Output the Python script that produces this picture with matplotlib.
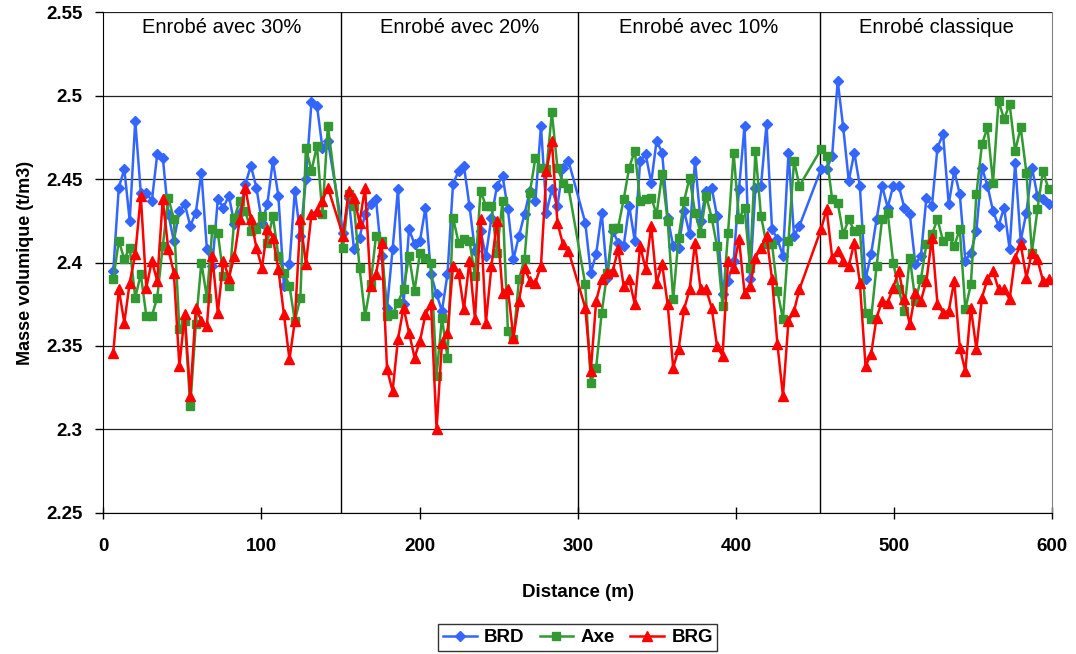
import numpy as np
import matplotlib
matplotlib.use("Agg")
from matplotlib import pyplot as plt

plt.rcParams['font.family'] = ['Liberation Sans', 'DejaVu Sans']

# distances (m) of the measuring points, per section
dist_30 = [6.3, 9.8, 13.3, 16.7, 20.2, 23.7, 27.2, 30.7, 34.1, 37.6, 41.1, 44.6, 48.1, 51.5,
           55.0, 58.5, 62.0, 65.5, 68.9, 72.4, 75.9, 79.4, 82.9, 86.3, 89.8, 93.3, 96.8, 100.3,
           103.7, 107.2, 110.7, 114.2, 117.7, 121.1, 124.6, 128.1, 131.6, 135.1, 138.5, 142.0]
dist_20 = [151.6, 155.1, 158.5, 162.0, 165.5, 169.0, 172.4, 175.9, 179.4, 182.9, 186.3, 189.8,
           193.3, 196.8, 200.2, 203.7, 207.2, 210.7, 214.1, 217.6, 221.1, 224.6, 228.0, 231.5,
           235.0, 238.5, 241.9, 245.4, 248.9, 252.4, 255.8, 259.3, 262.8, 266.3, 269.7, 273.2,
           276.7, 280.2, 283.6, 287.1, 290.6, 294.1]
dist_10 = [304.7, 308.2, 311.6, 315.1, 318.6, 322.1, 325.5, 329.0, 332.5, 336.0, 339.4, 342.9,
           346.4, 349.8, 353.3, 356.8, 360.3, 363.7, 367.2, 370.7, 374.1, 377.6, 381.1, 384.6,
           388.0, 391.5, 395.0, 398.5, 401.9, 405.4, 408.9, 412.3, 415.8, 419.3, 422.8, 426.2,
           429.7, 433.2, 436.7, 440.1]
dist_cl = [453.8, 457.3, 460.8, 464.3, 467.8, 471.3, 474.8, 478.3, 481.9, 485.4, 488.9, 492.4,
           495.9, 499.4, 502.9, 506.4, 509.9, 513.4, 516.9, 520.4, 523.9, 527.4, 530.9, 534.5,
           538.0, 541.5, 545.0, 548.5, 552.0, 555.5, 559.0, 562.5, 566.0, 569.5, 573.0, 576.5,
           580.0, 583.6, 587.1, 590.6, 594.1, 597.6]

brd_30 = [2.395, 2.445, 2.456, 2.425, 2.485, 2.442, 2.442, 2.437, 2.465, 2.463, 2.429, 2.413,
          2.431, 2.435, 2.422, 2.430, 2.454, 2.408, 2.398, 2.438, 2.433, 2.440, 2.423, 2.430,
          2.447, 2.458, 2.445, 2.424, 2.435, 2.461, 2.440, 2.386, 2.399, 2.443, 2.416, 2.450,
          2.496, 2.494, 2.469, 2.473]
axe_30 = [2.390, 2.413, 2.402, 2.409, 2.379, 2.393, 2.368, 2.368, 2.379, 2.410, 2.439, 2.426,
          2.360, 2.365, 2.314, 2.363, 2.400, 2.379, 2.420, 2.418, 2.392, 2.386, 2.427, 2.437,
          2.431, 2.419, 2.420, 2.428, 2.412, 2.428, 2.404, 2.394, 2.386, 2.365, 2.379, 2.469,
          2.455, 2.470, 2.429, 2.482]
brg_30 = [2.346, 2.384, 2.364, 2.388, 2.405, 2.440, 2.385, 2.401, 2.389, 2.438, 2.408, 2.394,
          2.338, 2.369, 2.320, 2.373, 2.365, 2.362, 2.404, 2.370, 2.401, 2.391, 2.404, 2.426,
          2.445, 2.426, 2.409, 2.397, 2.420, 2.415, 2.396, 2.369, 2.342, 2.365, 2.426, 2.399,
          2.429, 2.431, 2.437, 2.445]

brd_20 = [2.418, 2.439, 2.408, 2.415, 2.429, 2.435, 2.438, 2.404, 2.373, 2.408, 2.444, 2.375,
          2.420, 2.411, 2.413, 2.433, 2.393, 2.381, 2.371, 2.393, 2.447, 2.455, 2.458, 2.434,
          2.407, 2.419, 2.404, 2.427, 2.446, 2.452, 2.432, 2.402, 2.416, 2.429, 2.443, 2.437,
          2.482, 2.430, 2.444, 2.434, 2.457, 2.461]
axe_20 = [2.409, 2.441, 2.434, 2.397, 2.368, 2.387, 2.416, 2.413, 2.368, 2.369, 2.376, 2.384,
          2.404, 2.383, 2.406, 2.403, 2.400, 2.332, 2.367, 2.343, 2.427, 2.412, 2.414, 2.413,
          2.392, 2.443, 2.434, 2.434, 2.406, 2.437, 2.359, 2.354, 2.390, 2.402, 2.442, 2.463,
          2.457, 2.456, 2.490, 2.457, 2.448, 2.445]
brg_20 = [2.416, 2.443, 2.439, 2.424, 2.445, 2.386, 2.393, 2.412, 2.336, 2.323, 2.354, 2.373,
          2.358, 2.343, 2.353, 2.369, 2.375, 2.300, 2.352, 2.358, 2.398, 2.394, 2.372, 2.401,
          2.366, 2.426, 2.364, 2.398, 2.425, 2.382, 2.384, 2.355, 2.377, 2.397, 2.389, 2.388,
          2.398, 2.455, 2.473, 2.424, 2.411, 2.407]

brd_10 = [2.424, 2.394, 2.405, 2.430, 2.391, 2.419, 2.412, 2.410, 2.434, 2.413, 2.461, 2.465,
          2.448, 2.473, 2.466, 2.427, 2.410, 2.409, 2.431, 2.417, 2.461, 2.425, 2.443, 2.445,
          2.428, 2.381, 2.389, 2.401, 2.444, 2.482, 2.390, 2.445, 2.446, 2.483, 2.420, 2.414,
          2.404, 2.466, 2.416, 2.422]
axe_10 = [2.387, 2.328, 2.337, 2.370, 2.394, 2.421, 2.421, 2.438, 2.457, 2.467, 2.437, 2.438,
          2.439, 2.429, 2.453, 2.425, 2.378, 2.415, 2.437, 2.451, 2.430, 2.418, 2.440, 2.427,
          2.410, 2.374, 2.418, 2.466, 2.426, 2.433, 2.397, 2.467, 2.428, 2.411, 2.411, 2.383,
          2.366, 2.413, 2.461, 2.446]
brg_10 = [2.373, 2.335, 2.377, 2.390, 2.394, 2.395, 2.408, 2.386, 2.390, 2.375, 2.410, 2.396,
          2.422, 2.388, 2.399, 2.375, 2.337, 2.348, 2.372, 2.384, 2.412, 2.384, 2.384, 2.373,
          2.350, 2.344, 2.401, 2.397, 2.414, 2.382, 2.386, 2.403, 2.409, 2.416, 2.390, 2.351,
          2.320, 2.365, 2.371, 2.384]

brd_cl = [2.456, 2.456, 2.464, 2.509, 2.481, 2.449, 2.466, 2.446, 2.390, 2.405, 2.426, 2.446,
          2.433, 2.446, 2.446, 2.433, 2.429, 2.399, 2.404, 2.439, 2.434, 2.469, 2.477, 2.435,
          2.455, 2.441, 2.401, 2.406, 2.419, 2.457, 2.446, 2.431, 2.422, 2.433, 2.408, 2.460,
          2.413, 2.430, 2.457, 2.440, 2.438, 2.435]
axe_cl = [2.468, 2.464, 2.438, 2.436, 2.417, 2.426, 2.419, 2.420, 2.370, 2.366, 2.398, 2.426,
          2.430, 2.400, 2.384, 2.371, 2.403, 2.377, 2.390, 2.411, 2.417, 2.426, 2.413, 2.416,
          2.410, 2.420, 2.372, 2.387, 2.441, 2.471, 2.481, 2.448, 2.497, 2.486, 2.495, 2.467,
          2.481, 2.454, 2.406, 2.432, 2.455, 2.444]
brg_cl = [2.420, 2.432, 2.403, 2.407, 2.401, 2.398, 2.412, 2.388, 2.338, 2.345, 2.367, 2.377,
          2.376, 2.385, 2.395, 2.378, 2.363, 2.382, 2.377, 2.389, 2.415, 2.375, 2.370, 2.371,
          2.389, 2.349, 2.335, 2.373, 2.348, 2.379, 2.390, 2.395, 2.384, 2.384, 2.378, 2.403,
          2.411, 2.391, 2.406, 2.402, 2.389, 2.390]

sections = ["Enrobé avec 30%", "Enrobé avec 20%", "Enrobé avec 10%", "Enrobé classique"]
section_bounds = [0, 150, 300, 453, 600]
y_ticks = [2.25, 2.3, 2.35, 2.4, 2.45, 2.5, 2.55]
y_labels = ["2.25", "2.3", "2.35", "2.4", "2.45", "2.5", "2.55"]

dist = dist_30 + dist_20 + dist_10 + dist_cl
brd = brd_30 + brd_20 + brd_10 + brd_cl
axe = axe_30 + axe_20 + axe_10 + axe_cl
brg = brg_30 + brg_20 + brg_10 + brg_cl

fig = plt.figure(figsize=(10.76, 6.54), dpi=100)
ax = fig.add_axes([0.096, 0.216, 0.882, 0.765])

for y in y_ticks:
    ax.axhline(y, color="#222222", lw=0.9, zorder=1)
for b in section_bounds[1:-1]:
    ax.axvline(b, color="black", lw=1.0, zorder=1)

ax.plot(dist, brd, color="#3366FF", lw=1.8, marker="D", ms=5, label="BRD", zorder=3)
ax.plot(dist, axe, color="#339933", lw=1.8, marker="s", ms=5.5, label="Axe", zorder=3)
ax.plot(dist, brg, color="#FF0000", lw=1.8, marker="^", ms=7.5, label="BRG", zorder=3)

for i, name in enumerate(sections):
    xc = (section_bounds[i] + section_bounds[i + 1]) / 2
    ax.text(xc, 2.541, name, ha="center", va="center", fontsize=14.5)

ax.set_xlim(0, 600)
ax.set_ylim(2.25, 2.55)
ax.set_xticks(range(0, 601, 100))
ax.set_yticks(y_ticks)
ax.set_yticklabels(y_labels)
ax.tick_params(axis="x", direction="inout", length=8, pad=14, labelsize=13.5, width=1)
ax.tick_params(axis="y", direction="out", length=6, pad=9, labelsize=13.5, width=1)
for lab in ax.get_xticklabels() + ax.get_yticklabels():
    lab.set_fontweight("bold")

ax.spines["top"].set_visible(False)
ax.spines["right"].set_color("#808080")
ax.spines["left"].set_color("black")
ax.spines["bottom"].set_color("black")

ax.set_xlabel("Distance (m)", fontsize=13.5, fontweight="bold")
ax.xaxis.set_label_coords(0.5, -0.142)
ax.set_ylabel("Masse volumique (t/m3)", fontsize=13, fontweight="bold")
ax.yaxis.set_label_coords(-0.073, 0.5)

leg = fig.legend(loc="center", bbox_to_anchor=(0.537, 0.025), ncol=3, frameon=True,
                 fancybox=False, edgecolor="black", handlelength=1.8, columnspacing=0.8,
                 handletextpad=0.4, borderpad=0.25, prop={"size": 13.5, "weight": "bold"})
leg.get_frame().set_linewidth(1.0)

fig.savefig("out.png", dpi=100)
